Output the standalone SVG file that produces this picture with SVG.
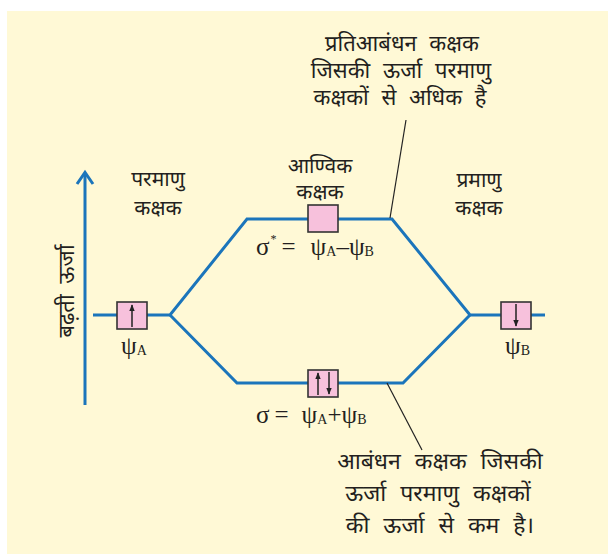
<svg xmlns="http://www.w3.org/2000/svg" width="608" height="554" viewBox="0 0 608 554">
<style>
.bg{fill:#fff9d6}
.lvl{fill:none;stroke:#1b75bb;stroke-width:3;stroke-linejoin:miter}
.box{fill:#f7c1dc;stroke:#333;stroke-width:1.6}
.spin{stroke:#222;stroke-width:1.5}
.lead{fill:none;stroke:#222;stroke-width:1.2}
.hi{font-family:"Noto Sans Devanagari","Noto Sans",sans-serif;fill:#231f20;text-anchor:middle}
.gk{font-family:"Liberation Serif",serif;fill:#231f20;font-size:25px}
.sub{font-size:14px}
</style>
<defs>
<marker id="ah" viewBox="0 0 10 10" refX="9" refY="5" markerWidth="7" markerHeight="7" markerUnits="userSpaceOnUse" orient="auto">
<path d="M0,1 L10,5 L0,9 Z" fill="#222"/>
</marker>
</defs>
<rect class="bg" x="7" y="11" width="601" height="543"/>

<g id="energy-axis">
<line x1="85" y1="173" x2="85" y2="405" stroke="#1b75bb" stroke-width="3"/>
<polyline points="77,184 85,172.5 93,184" fill="none" stroke="#1b75bb" stroke-width="3"/>
<text class="hi" font-size="22" word-spacing="5" transform="translate(74,291) rotate(-90)">बढ़ती ऊर्जा</text>
</g>

<g id="connectors">
<polyline class="lvl" points="93,315 170,315 247,219 392,219 470,315 545,315"/>
<polyline class="lvl" points="170,315 237,383 403,383 470,315"/>
<line class="lead" x1="406" y1="120" x2="390" y2="218"/>
<line class="lead" x1="387" y1="383" x2="422" y2="450"/>
</g>

<g id="ao-a">
<rect class="box" x="117" y="302" width="30" height="27"/>
<line class="spin" x1="132" y1="327" x2="132" y2="305" marker-end="url(#ah)"/>
<text class="gk" x="121" y="354">ψ<tspan class="sub" dy="1">A</tspan></text>
</g>

<g id="ao-b">
<rect class="box" x="501" y="302" width="30" height="27"/>
<line class="spin" x1="516" y1="304" x2="516" y2="326" marker-end="url(#ah)"/>
<text class="gk" x="505" y="354">ψ<tspan class="sub" dy="1">B</tspan></text>
</g>

<g id="mo-antibonding">
<rect class="box" x="308" y="205" width="30" height="27"/>
<text class="gk" x="256" y="255">σ<tspan font-size="12" dy="-12" dx="1">*</tspan><tspan dy="12" dx="5">=</tspan><tspan dx="15">ψ</tspan><tspan class="sub" dy="1">A</tspan><tspan dy="-1">–ψ</tspan><tspan class="sub" dy="1">B</tspan></text>
</g>

<g id="mo-bonding">
<rect class="box" x="308" y="370" width="30" height="27"/>
<line class="spin" x1="318" y1="395" x2="318" y2="373" marker-end="url(#ah)"/>
<line class="spin" x1="329" y1="372" x2="329" y2="394" marker-end="url(#ah)"/>
<text class="gk" x="256" y="423">σ<tspan dx="5">=</tspan><tspan dx="13">ψ</tspan><tspan class="sub" dy="1">A</tspan><tspan dy="-1">+ψ</tspan><tspan class="sub" dy="1">B</tspan></text>
</g>

<g id="label-atomic-left">
<text class="hi" font-size="21" x="158" y="186">परमाणु</text>
<text class="hi" font-size="21" x="158" y="215">कक्षक</text>
</g>

<g id="label-molecular">
<text class="hi" font-size="21" x="320" y="173">आण्विक</text>
<text class="hi" font-size="21" x="320" y="199">कक्षक</text>
</g>

<g id="label-atomic-right">
<text class="hi" font-size="21" x="479" y="187">प्रमाणु</text>
<text class="hi" font-size="21" x="479" y="215">कक्षक</text>
</g>

<g id="note-antibonding">
<text class="hi" font-size="22" word-spacing="7" x="402" y="51">प्रतिआबंधन कक्षक</text>
<text class="hi" font-size="22" word-spacing="7" x="401" y="78">जिसकी ऊर्जा परमाणु</text>
<text class="hi" font-size="22" word-spacing="7" x="400" y="105">कक्षकों से अधिक है</text>
</g>

<g id="note-bonding">
<text class="hi" font-size="23" word-spacing="8" x="440" y="469">आबंधन कक्षक जिसकी</text>
<text class="hi" font-size="23" word-spacing="8" x="438" y="501">ऊर्जा परमाणु कक्षकों</text>
<text class="hi" font-size="23" word-spacing="8" x="440" y="533">की ऊर्जा से कम है।</text>
</g>
</svg>
